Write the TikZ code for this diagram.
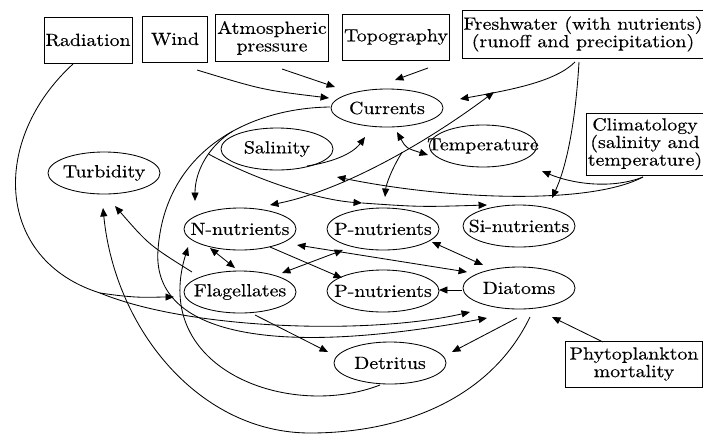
\documentclass[tikz,border=0pt]{standalone}
\usepackage{fontspec}
\setmainfont{lmroman10-regular.otf}[FakeStretch=1.13, FakeBold=0.3]
\usepackage{tikz}
\usetikzlibrary{arrows.meta, calc, shapes.geometric}
\newcommand{\inblob}[1]{\makebox[0pt]{#1}}

\begin{document}
\begin{tikzpicture}[x=0.025cm, y=-0.025cm, >={Triangle[length=6pt, width=5pt]},
  line width=0.6pt,
  every node/.style={font=\fontsize{12.5}{12.5}\selectfont},
  box/.style={draw, rectangle, align=center, inner sep=1pt, minimum height=1.15cm},
  blob/.style={draw, ellipse, inner sep=0pt, minimum width=2.8cm, minimum height=1.05cm}]
  \useasboundingbox (0,0) rectangle (703,435);
  % outside drivers
  \node[box, minimum width=2.15cm] (rad) at (88,40) {Radiation};
  \node[box, minimum width=1.625cm] (wind) at (175,39) {Wind};
  \node[box, minimum width=2.725cm, minimum height=1.175cm] (atm) at (272,38) {Atmospheric\\pressure};
  \node[box, minimum width=2.55cm] (topo) at (396,37) {Topography};
  \node[box, minimum width=5.95cm, minimum height=1.2cm] (fresh) at (583,34) {Freshwater (with nutrients)\\(runoff and precipitation)};
  \node[box, minimum width=2.825cm, minimum height=1.55cm] (clim) at (645,144) {Climatology\\(salinity and\\temperature)};
  \node[box, minimum width=3.425cm] (mort) at (634,364) {Phytoplankton\\mortality};
  % state variables
  \node[blob, minimum height=0.95cm] (curr) at (387,108) {\inblob{Currents}};
  \node[blob] (sal) at (277,149) {\inblob{Salinity}};
  \node[blob, minimum width=2.68cm] (temp) at (483,146) {\inblob{Temperature}};
  \node[blob] (turb) at (104,173) {\inblob{Turbidity}};
  \node[blob] (nnut) at (240,229) {\inblob{N-nutrients}};
  \node[blob] (pnut) at (383,229) {\inblob{P-nutrients}};
  \node[blob] (sinut) at (519,226) {\inblob{Si-nutrients}};
  \node[blob] (flag) at (240,292) {\inblob{Flagellates}};
  \node[blob] (pnutb) at (383,291) {\inblob{P-nutrients}};
  \node[blob] (diat) at (519,288) {\inblob{Diatoms}};
  \node[blob] (detr) at (390,363) {\inblob{Detritus}};
  % radiation
  \coordinate (radfork) at (100,293);
  \draw ($(rad)+(-15,24)$) .. controls (-10,140) and (-5,260) .. (radfork);
  \draw[->] (radfork) .. controls (140,299) and (150,297) .. ($(flag)+(-66,5)$);
  \draw[->] (radfork) .. controls (190,330) and (370,335) .. ($(diat)+(-49,24)$);
  % wind, pressure, topography
  \draw[->] ($(wind)+(22,31)$) .. controls (263,90) .. ($(curr)+(-58,-10)$);
  \draw[->] ($(atm)+(10,31)$) -- ($(curr)+(-52,-21)$);
  \draw[->] ($(topo)+(32,31)$) -- ($(curr)+(8,-28)$);
  % freshwater
  \draw[->] ($(fresh)+(-8,28)$) .. controls (555,82) and (510,90) .. ($(curr)+(73,-9)$);
  \draw[->] ($(fresh)+(-4,28)$) .. controls (575,130) and (565,170) .. ($(sinut)+(33,-28)$);
  \draw[<->] ($(nnut)+(30,-24)$) .. controls (345,190) and (430,140) .. ($(fresh)+(-89,58)$)
    coordinate[pos=0.57] (nfork);
  \draw[->] (nfork) .. controls (392,168) and (386,185) .. ($(pnut)+(2,-32)$);
  % currents, temperature, salinity
  \draw[<->] ($(curr)+(10,24)$) .. controls (406,148) .. ($(temp)+(-55,9)$);
  \draw[->] ($(sal)+(30,17)$) .. controls (345,160) and (357,148) .. ($(curr)+(-22,29)$);
  \draw[->] ($(curr)+(-57,-1)$) .. controls (250,108) and (165,150) .. (158,250) coordinate[pos=0.42] (cfork)
    .. controls (152,330) and (260,360) .. ($(diat)+(-32,30)$);
  \draw[->] (cfork) .. controls (210,145) and (195,170) .. ($(nnut)+(-45,-28)$) coordinate[pos=0.42] (cfork2);
  \coordinate (ptop) at ($(pnut)+(-21,-26)$);
  \draw[->] (cfork2) .. controls (260,182) and (320,200) .. (ptop);
  \draw[->] (ptop) .. controls (420,207) .. ($(sinut)+(-32,-21)$);
  % climatology
  \draw[->] ($(clim)+(-2,33)$) .. controls (610,190) and (570,183) .. ($(temp)+(59,25)$);
  \draw[->] ($(clim)+(-2,33)$) .. controls (590,205) and (450,200) .. ($(sal)+(60,28)$);
  % plankton web
  \draw[->] ($(flag)+(-48,-20)$) .. controls (149,245) .. ($(turb)+(11,33)$);
  \draw[->] ($(diat)+(11,29)$) .. controls (490,400) and (400,433) .. (310,433)
    .. controls (200,433) and (115,330) .. ($(turb)+(-1,35)$);
  \draw[->] ($(detr)+(-10,22)$) .. controls (290,420) and (150,370) .. ($(nnut)+(-52,18)$);
  \draw[<->] ($(nnut)+(-30,19)$) -- ($(flag)+(-5,-24)$);
  \draw[->] ($(nnut)+(30,18)$) -- ($(pnutb)+(-41,-13)$);
  \draw[<->] ($(flag)+(42,-19)$) -- ($(pnut)+(-40,21)$);
  \draw[<->] ($(nnut)+(57,16)$) -- ($(diat)+(-52,-16)$);
  \draw[<->] ($(pnut)+(49,13)$) -- ($(diat)+(-36,-23)$);
  \draw[->] ($(diat)+(-57,2)$) -- ($(pnutb)+(56,-1)$);
  \draw[->] ($(diat)+(-2,30)$) -- ($(detr)+(62,-11)$);
  \draw[->] ($(flag)+(15,23)$) -- ($(detr)+(-62,-11)$);
  \draw[->] ($(mort)+(-31,-22)$) -- ($(diat)+(33,29)$);
\end{tikzpicture}
\end{document}
